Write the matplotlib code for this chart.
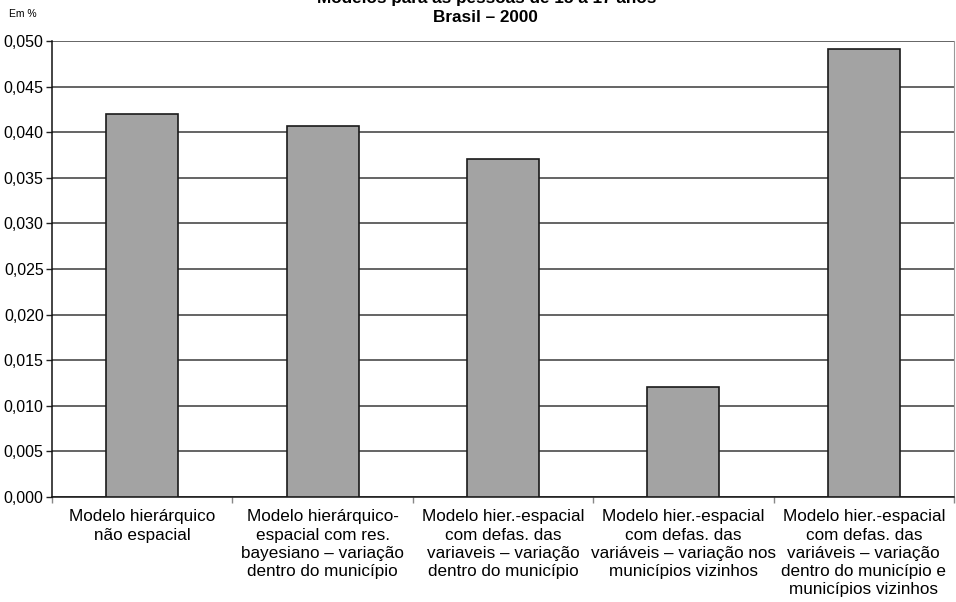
import numpy as np
import matplotlib.pyplot as plt
from matplotlib.ticker import MultipleLocator, FuncFormatter

plt.rcParams['font.family'] = ['Liberation Sans', 'DejaVu Sans']

categorias = [
    "Modelo hierárquico\nnão espacial",
    "Modelo hierárquico-\nespacial com res.\nbayesiano – variação\ndentro do município",
    "Modelo hier.-espacial\ncom defas. das\nvariaveis – variação\ndentro do município",
    "Modelo hier.-espacial\ncom defas. das\nvariáveis – variação nos\nmunicípios vizinhos",
    "Modelo hier.-espacial\ncom defas. das\nvariáveis – variação\ndentro do município e\nmunicípios vizinhos",
]
valores = [0.0420, 0.0407, 0.0371, 0.0121, 0.0491]

fig = plt.figure(figsize=(9.56, 6.02), dpi=100)
ax = fig.add_axes([52 / 956, 105 / 602, 902 / 956, 456 / 602])

x = np.arange(len(valores))
ax.bar(x, valores, width=0.4, color='#a3a3a3', edgecolor='#1a1a1a',
       linewidth=1.2, zorder=3)

ax.set_xlim(-0.5, len(valores) - 0.5)
ax.set_ylim(0, 0.050)
ax.yaxis.set_major_locator(MultipleLocator(0.005))
ax.yaxis.set_major_formatter(FuncFormatter(lambda v, p: f"{v:.3f}".replace('.', ',')))
ax.grid(axis='y', color='#3a3a3a', linewidth=1.1, zorder=0)
ax.tick_params(axis='y', labelsize=11.5, length=4, width=1, color='#222222', pad=2)

# categorias nos centros, marcas nas divisas
ax.set_xticks(x)
ax.set_xticklabels(categorias, fontsize=12.3, linespacing=1.27)
ax.tick_params(axis='x', which='major', length=0, pad=9)
ax.set_xticks(np.arange(-0.5, len(valores) + 0.5, 1), minor=True)
ax.tick_params(axis='x', which='minor', length=4, color='#888888', width=1)

for lado in ['left', 'bottom']:
    ax.spines[lado].set_color('#111111')
    ax.spines[lado].set_linewidth(1.1)
ax.spines['top'].set_visible(False)
ax.spines['right'].set_color('#999999')

fig.text(487 / 956, 1 + 1 / 602, "Modelos para as pessoas de 15 a 17 anos", ha='center', va='center',
         fontsize=12.3, fontweight='bold')
fig.text(485 / 956, 1 - 18 / 602, "Brasil – 2000", ha='center', va='center',
         fontsize=12.3, fontweight='bold')
fig.text(23 / 956, 1 - 14 / 602, "Em %", ha='center', va='center', fontsize=7.5)

fig.savefig("out.png", dpi=100)
